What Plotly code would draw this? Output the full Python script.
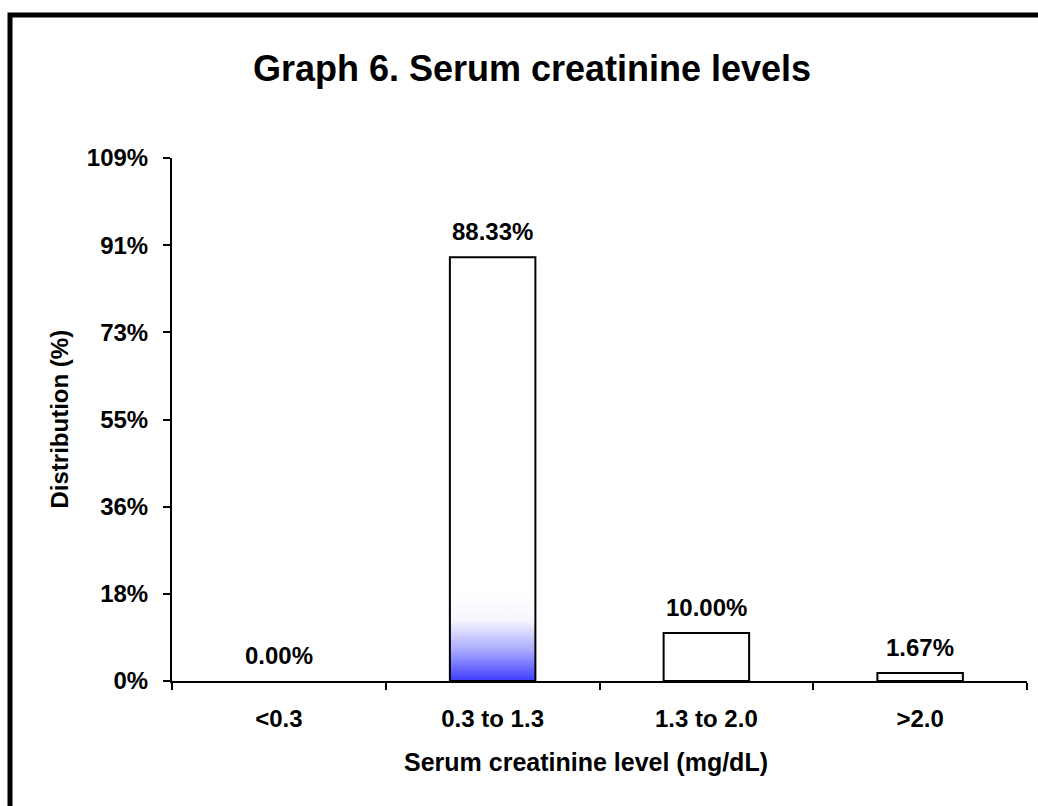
import base64
import plotly.graph_objects as go

# ---- data ----
categories = ["<0.3", "0.3 to 1.3", "1.3 to 2.0", ">2.0"]
distribution_pct = [0.00, 88.33, 10.00, 1.67]
y_max = 109
n_intervals = 6
y_tick_labels = ["0%", "18%", "36%", "55%", "73%", "91%", "109%"]
title_text = "Graph 6. Serum creatinine levels"
x_title = "Serum creatinine level (mg/dL)"
y_title = "Distribution (%)"
gradient_bar = "0.3 to 1.3"

# ---- layout geometry (pixels) ----
W, H = 1038, 806
ML, MR, MT, MB = 172, 11, 158, 125
PW = W - ML - MR
PH = H - MT - MB

FONT = "Liberation Sans, Arial, sans-serif"
BARGAP = 0.6
FS = 24


def px_to_paper_x(px):
    return (px - ML) / PW


def px_to_paper_y(py):
    return (H - MB - py) / PH


def esc(s):
    return s.replace("<", "&lt;").replace(">", "&gt;")


tick_vals = [y_max * i / n_intervals for i in range(n_intervals + 1)]

bar_fill = ["rgba(0,0,0,0)" if c == gradient_bar else "white" for c in categories]
bar_line = [0 if v == 0 else 2 for v in distribution_pct]

fig = go.Figure()
fig.add_trace(go.Bar(
    x=categories,
    y=distribution_pct,
    marker=dict(color=bar_fill, line=dict(color="black", width=bar_line)),
    hoverinfo="skip",
))

# data labels
for c, v in zip(categories, distribution_pct):
    fig.add_annotation(
        x=c, y=v, xref="x", yref="y",
        text=f"<b>{v:.2f}%</b>", showarrow=False,
        yanchor="bottom", yshift=10,
        font=dict(family=FONT, size=FS, color="black"),
    )

# gradient fill (blue -> white) at the bottom of the highlighted bar
svg = (
    '<svg xmlns="http://www.w3.org/2000/svg" width="10" height="100" '
    'viewBox="0 0 10 100" preserveAspectRatio="none">'
    '<defs><linearGradient id="g" x1="0" y1="0" x2="0" y2="1">'
    '<stop offset="0" stop-color="#ffffff"/>'
    '<stop offset="0.3" stop-color="#f6f6ff"/>'
    '<stop offset="0.65" stop-color="#a8a8ff"/>'
    '<stop offset="1" stop-color="#3c3cff"/>'
    '</linearGradient></defs>'
    '<rect x="0" y="0" width="10" height="100" fill="url(#g)"/></svg>'
)
src = "data:image/svg+xml;base64," + base64.b64encode(svg.encode()).decode()
grad_height = 18
fig.add_layout_image(
    source=src, xref="x", yref="y",
    x=gradient_bar, y=grad_height, xanchor="center", yanchor="top",
    sizex=1 - BARGAP, sizey=grad_height, sizing="stretch", layer="below",
)

# axis titles as annotations
fig.add_annotation(
    x=px_to_paper_x(586), y=px_to_paper_y(762), xref="paper", yref="paper",
    text=f"<b>{x_title}</b>", showarrow=False, xanchor="center", yanchor="middle",
    font=dict(family=FONT, size=25, color="black"),
)
fig.add_annotation(
    x=px_to_paper_x(59), y=0.5, xref="paper", yref="paper",
    text=f"<b>{y_title}</b>", showarrow=False, textangle=-90,
    xanchor="center", yanchor="middle",
    font=dict(family=FONT, size=FS, color="black"),
)

# outer frame
fig.add_shape(
    type="rect", xref="paper", yref="paper",
    x0=px_to_paper_x(10), x1=px_to_paper_x(W + 40),
    y0=px_to_paper_y(H + 40), y1=px_to_paper_y(15),
    line=dict(color="black", width=5), fillcolor="rgba(0,0,0,0)", layer="above",
)

fig.update_layout(
    width=W, height=H,
    margin=dict(l=ML, r=MR, t=MT, b=MB, autoexpand=False),
    paper_bgcolor="white", plot_bgcolor="white",
    bargap=BARGAP, showlegend=False,
    title=dict(
        text=f"<b>{title_text}</b>", x=532 / W, xanchor="center",
        y=1 - 68 / H, yanchor="middle", xref="container", yref="container",
        font=dict(family=FONT, size=36, color="black"),
    ),
    font=dict(family=FONT, color="black"),
)

fig.update_xaxes(
    type="category", showline=True, linecolor="black", linewidth=2,
    ticks="outside", ticklen=7, tickwidth=2, tickcolor="black",
    tickson="boundaries", showgrid=False, zeroline=False,
    tickfont=dict(family=FONT, size=FS, color="black"),
    ticklabelstandoff=15,
    range=[-0.5, len(categories) - 0.5],
    tickvals=categories, ticktext=[f"<b>{esc(c)}</b>" for c in categories],
)

fig.update_yaxes(
    range=[0, y_max], tickvals=tick_vals, ticktext=[f"<b>{t}</b>" for t in y_tick_labels],
    showline=True, linecolor="black", linewidth=2,
    ticks="outside", ticklen=7, tickwidth=2, tickcolor="black",
    showgrid=False, zeroline=False,
    tickfont=dict(family=FONT, size=FS, color="black"),
    ticklabelstandoff=10,
)

fig.write_html("out.html")
